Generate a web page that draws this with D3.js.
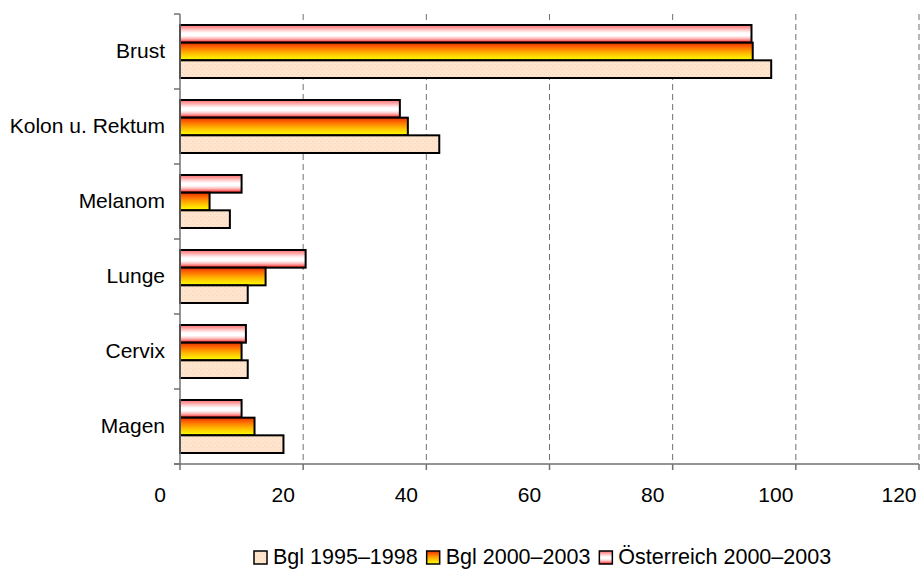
<!DOCTYPE html>
<html>
<head>
<meta charset="utf-8">
<script src="https://cdn.jsdelivr.net/npm/d3@7"></script>
<style>
  html, body { margin: 0; padding: 0; background: #fff; }
  svg { display: block; }
  text { font-family: "Liberation Sans", Arial, sans-serif; fill: #000; }
</style>
</head>
<body>
<svg id="chart" width="921" height="569"></svg>
<script>
const categories = ["Brust", "Kolon u. Rektum", "Melanom", "Lunge", "Cervix", "Magen"];
const seriesNames = ["Bgl 1995–1998", "Bgl 2000–2003", "Österreich 2000–2003"];
const bgl19951998 = [96.0, 42.1, 8.1, 11.0, 11.0, 16.8];
const bgl20002003 = [93.0, 37.0, 4.8, 13.9, 10.0, 12.1];
const oesterreich20002003 = [92.8, 35.7, 10.0, 20.4, 10.7, 10.0];
const xTicks = [0, 20, 40, 60, 80, 100, 120];

(function () {
const svg = d3.select("#chart");
const defs = svg.append("defs");

// Pattern for Bgl 1995–1998 (peach dotted)
const pat = defs.append("pattern").attr("id", "peach").attr("patternUnits", "userSpaceOnUse")
  .attr("width", 4).attr("height", 4);
pat.append("rect").attr("width", 4).attr("height", 4).attr("fill", "#FFE5CE");
pat.append("rect").attr("x", 0).attr("y", 0).attr("width", 1).attr("height", 1).attr("fill", "#F6D6BA");
pat.append("rect").attr("x", 2).attr("y", 2).attr("width", 1).attr("height", 1).attr("fill", "#F6D6BA");

// Gradient for Bgl 2000–2003
const g2 = defs.append("linearGradient").attr("id", "fire").attr("x1", 0).attr("y1", 0).attr("x2", 0).attr("y2", 1);
[["0%", "#E53000"], ["25%", "#FF6A00"], ["55%", "#FFB000"], ["80%", "#FFE000"], ["100%", "#FFFF00"]]
  .forEach(([o, c]) => g2.append("stop").attr("offset", o).attr("stop-color", c));

// Gradient for Österreich 2000–2003
const g3 = defs.append("linearGradient").attr("id", "redwhite").attr("x1", 0).attr("y1", 0).attr("x2", 0).attr("y2", 1);
[["0%", "#FF6E6E"], ["15%", "#FF9A9A"], ["30%", "#FFD0D0"], ["45%", "#FFFFFF"], ["60%", "#FFFFFF"],
 ["75%", "#FFC4C4"], ["88%", "#FF7070"], ["100%", "#F00000"]]
  .forEach(([o, c]) => g3.append("stop").attr("offset", o).attr("stop-color", c));

const fills = ["url(#peach)", "url(#fire)", "url(#redwhite)"];

const mLeft = 180, mRight = 919, mTop = 14, mBottom = 464;
const x = d3.scaleLinear().domain([0, 120]).range([mLeft, mRight]);
const y = d3.scaleBand().domain(categories).range([mTop, mBottom]).padding(0);
const bandH = y.bandwidth();
const inner = d3.scaleBand().domain(["oe", "b00", "b95"]).range([11, bandH - 11]).padding(0);

// Gridlines
svg.append("g").selectAll("line").data(xTicks.filter(d => d > 0)).join("line")
  .attr("x1", d => x(d)).attr("x2", d => x(d))
  .attr("y1", mTop).attr("y2", mBottom)
  .attr("stroke", "#6f6f6f").attr("stroke-width", 1).attr("stroke-dasharray", "6,4");

// Bars
const rows = categories.map((c, i) => ({
  cat: c,
  vals: [
    { key: "oe", v: oesterreich20002003[i], fill: fills[2] },
    { key: "b00", v: bgl20002003[i], fill: fills[1] },
    { key: "b95", v: bgl19951998[i], fill: fills[0] }
  ]
}));
const groups = svg.append("g").selectAll("g").data(rows).join("g")
  .attr("transform", d => `translate(0,${y(d.cat)})`);
groups.selectAll("rect").data(d => d.vals).join("rect")
  .attr("x", x(0))
  .attr("y", d => inner(d.key))
  .attr("width", d => x(d.v) - x(0))
  .attr("height", inner.bandwidth())
  .attr("fill", d => d.fill)
  .attr("stroke", "#000").attr("stroke-width", 2);

// X axis
const xAxisG = svg.append("g").attr("transform", `translate(0,${mBottom})`);
xAxisG.append("line").attr("x1", mLeft - 6).attr("x2", mRight).attr("y1", 0).attr("y2", 0)
  .attr("stroke", "#707070").attr("stroke-width", 1.5);
xAxisG.selectAll("line.tick").data(xTicks).join("line").attr("class", "tick")
  .attr("x1", d => x(d)).attr("x2", d => x(d)).attr("y1", 0).attr("y2", 6)
  .attr("stroke", "#707070").attr("stroke-width", 1.5);
xAxisG.selectAll("text").data(xTicks).join("text")
  .attr("x", d => x(d) - 20).attr("y", 38)
  .attr("text-anchor", "middle").attr("font-size", 21)
  .text(d => d);

// Y axis
const yAxisG = svg.append("g");
yAxisG.append("line").attr("x1", mLeft).attr("x2", mLeft).attr("y1", mTop).attr("y2", mBottom)
  .attr("stroke", "#707070").attr("stroke-width", 1.5);
const boundaries = categories.map(c => y(c)).concat([mBottom]);
yAxisG.selectAll("line.tick").data(boundaries).join("line").attr("class", "tick")
  .attr("x1", mLeft - 6).attr("x2", mLeft).attr("y1", d => d).attr("y2", d => d)
  .attr("stroke", "#707070").attr("stroke-width", 1.5);
yAxisG.selectAll("text").data(categories).join("text")
  .attr("x", 165).attr("y", d => y(d) + bandH / 2 + 6)
  .attr("text-anchor", "end").attr("font-size", 21)
  .text(d => d);

// Legend
const legend = svg.append("g");
let lx = 254;
seriesNames.forEach((name, i) => {
  legend.append("rect").attr("x", lx).attr("y", 551).attr("width", 13).attr("height", 13)
    .attr("fill", fills[i]).attr("stroke", "#000").attr("stroke-width", 1.5);
  const t = legend.append("text").attr("x", lx + 19).attr("y", 563.5)
    .attr("font-size", 21.5).text(name);
  lx = lx + 19 + t.node().getComputedTextLength() + 9;
});
})();
</script>
</body>
</html>
